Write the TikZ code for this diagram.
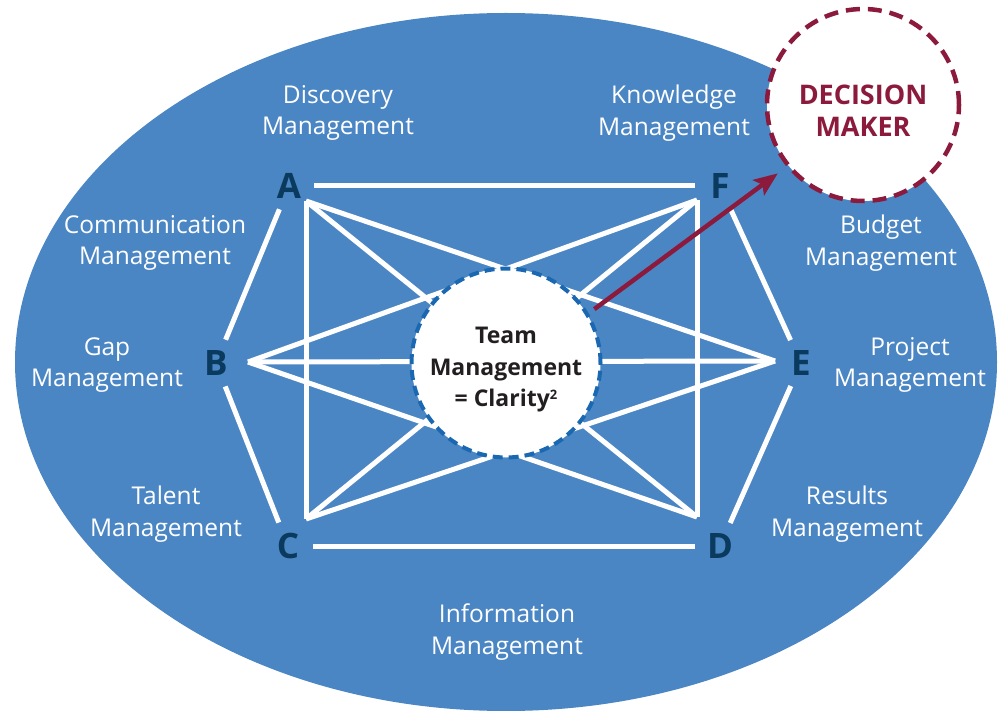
\documentclass[tikz,border=0pt]{standalone}
\usepackage{fontspec}
\setmainfont{Open Sans}
\usetikzlibrary{arrows.meta}
\definecolor{ovalblue}{RGB}{75,134,196}
\definecolor{letterblue}{RGB}{10,58,94}
\definecolor{dashblue}{RGB}{26,104,178}
\definecolor{deepred}{RGB}{139,26,60}
\definecolor{inkgray}{RGB}{35,31,32}
\newcommand{\squared}{\raisebox{7pt}{\fontsize{13}{13}\selectfont 2}}
\newcommand{\topgap}[1]{\rule{0pt}{#1}}

\begin{document}
\begin{tikzpicture}[x=1pt, y=-1pt,
    vtx/.style={circle, inner sep=0pt, minimum size=50pt, text=letterblue,
      font=\fontsize{35}{35}\selectfont\bfseries},
    area/.style={align=center, text=white, font=\fontsize{24.5}{31.5}\selectfont},
    spoke/.style={white, line width=5pt},
    rim/.style={white, line width=5pt},
    hub/.style={circle, inner sep=0pt, minimum size=189pt, fill=white, draw=dashblue,
      line width=4pt, dash pattern=on 10pt off 6pt, align=center, text=inkgray,
      font=\fontsize{23}{31.5}\selectfont\bfseries},
    maker/.style={circle, inner sep=0pt, minimum size=192pt, fill=white, draw=deepred,
      line width=4.5pt, dash pattern=on 14pt off 8pt, align=center, text=deepred,
      font=\fontsize{27}{32}\selectfont\bfseries}]
  \useasboundingbox (0,0) rectangle (1001,711);
  \fill [ovalblue] (506,362) ellipse [x radius=491pt, y radius=349pt];

  \node [area] (discovery) at (338,113) {Discovery\\Management};
  \node [area] (knowledge) at (674,113) {Knowledge\\Management};
  \node [area] (communication) at (155,243) {Communication\\Management};
  \node [area] (budget) at (881,243) {Budget\\Management};
  \node [area] (gap) at (107,365) {Gap\\Management};
  \node [area] (project) at (910,365) {Project\\Management};
  \node [area] (talent) at (166,514) {Talent\\Management};
  \node [area] (results) at (847,514) {Results\\Management};
  \node [area] (information) at (507,632) {Information\\Management};

  \node [vtx] (A) at (289,186) {A};
  \node [vtx] (F) at (720,186) {F};
  \node [vtx] (B) at (216,363) {B};
  \node [vtx] (E) at (801,363) {E};
  \node [vtx] (C) at (288,546) {C};
  \node [vtx] (D) at (720,546) {D};

  \coordinate (pA) at (306,201);
  \coordinate (pF) at (697,200);
  \coordinate (pB) at (248,362);
  \coordinate (pE) at (775,361);
  \coordinate (pC) at (306,519);
  \coordinate (pD) at (697,517);

  \path [spoke] (pA) edge (pC);
  \path [spoke] (pA) edge (pD);
  \path [spoke] (pA) edge (pE);
  \path [spoke] (pF) edge (pD);
  \path [spoke] (pF) edge (pC);
  \path [spoke] (pF) edge (pB);
  \path [spoke] (pB) edge (pE);
  \path [spoke] (pB) edge (pD);
  \path [spoke] (pC) edge (pE);

  \path [rim] (A) edge (F);
  \path [rim] (A) edge (B);
  \path [rim] (B) edge (C);
  \path [rim] (C) edge (D);
  \path [rim] (F) edge (E);
  \path [rim] (E) edge (D);

  \node [hub] (team) at (506,363) {\topgap{30pt}Team\\Management\\= Clarity\squared};
  \node [maker] (decision) at (863,105) {\topgap{32pt}DECISION\\MAKER};

  \draw [deepred, line width=4.5pt, -{Stealth[length=24pt, width=19pt, inset=5pt]},
    shorten <=7pt, shorten >=11pt] (team.31) -- (decision.219);
\end{tikzpicture}
\end{document}
